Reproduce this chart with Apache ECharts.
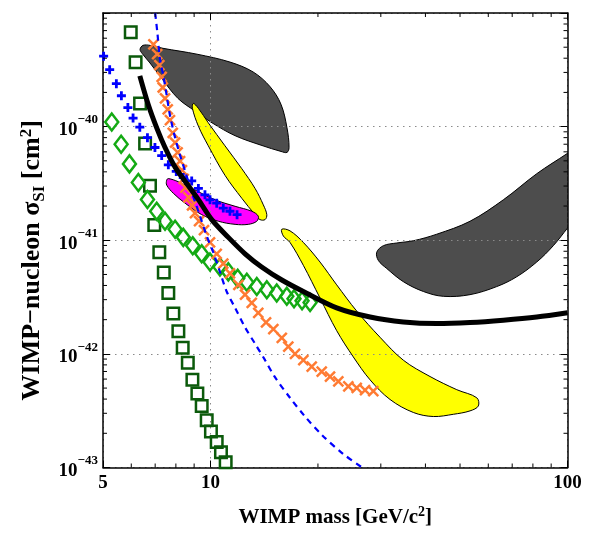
<!DOCTYPE html>
<html><head><meta charset="utf-8">
<script src="https://cdn.jsdelivr.net/npm/echarts@6/dist/echarts.min.js"></script>
<style>html,body{margin:0;padding:0;background:#fff}#c{width:589px;height:533px}</style>
</head><body><div id="c"></div>
<script>
// y axis is drawn in units of 1e-43 cm^2 (labels show the true powers of ten)
const SIGMA_UNIT = 1e-43;
const X_MIN = 5, X_MAX = 100;
const Y_MIN = 1e-43, Y_MAX = 1e-39;

const xTickLabels = [5, 10, 100];
const minorTickMass = [6,7,8,9,20,30,40,50,60,70,80,90];
const minorTickSigma = [2e-43,3e-43,4e-43,5e-43,6e-43,7e-43,8e-43,9e-43,
  2e-42,3e-42,4e-42,5e-42,6e-42,7e-42,8e-42,9e-42,
  2e-41,3e-41,4e-41,5e-41,6e-41,7e-41,8e-41,9e-41,
  2e-40,3e-40,4e-40,5e-40,6e-40,7e-40,8e-40,9e-40];

// dark green squares
const squaresMass = [5.98,6.17,6.35,6.56,6.77,6.96,7.19,7.40,7.62,7.87,8.13,8.36,8.64,8.90,9.19,9.45,9.76,10.03,10.41,10.70,11.03];
const squaresSigma = [6.76e-40,3.68e-40,1.60e-40,7.10e-41,3.02e-41,1.36e-41,7.85e-42,5.21e-42,3.43e-42,2.27e-42,1.58e-42,1.13e-42,8.35e-43,5.91e-43,4.47e-43,3.48e-43,2.61e-43,2.07e-43,1.68e-43,1.36e-43,1.11e-43];

// blue plus markers
const plusMass = [5.02,5.22,5.45,5.63,5.87,6.07,6.34,6.66,6.99,7.30,7.62,8.02,8.39,8.86,9.25,9.65,9.97,10.41,10.86,11.34,11.87];
const plusSigma = [4.17e-40,3.17e-40,2.39e-40,1.87e-40,1.47e-40,1.19e-40,9.89e-41,8.00e-41,6.55e-41,5.56e-41,4.61e-41,4.03e-41,3.56e-41,3.33e-41,2.86e-41,2.51e-41,2.27e-41,2.12e-41,1.92e-41,1.80e-41,1.68e-41];

// green diamonds
const diamondMass = [5.29,5.62,5.93,6.28,6.66,7.07,7.46,7.96,8.39,8.92,9.45,9.97,10.63,11.22,11.92,12.64,13.48,14.38,15.33,16.36,17.14,18.05,19.01];
const diamondSigma = [1.10e-40,7.0e-41,4.70e-41,3.22e-41,2.28e-41,1.80e-41,1.47e-41,1.25e-41,1.06e-41,8.96e-42,7.60e-42,6.43e-42,5.82e-42,5.27e-42,4.62e-42,4.27e-42,3.91e-42,3.66e-42,3.43e-42,3.21e-42,3.06e-42,2.94e-42,2.83e-42];

// orange crosses
const crossMass = [6.92,7.09,7.19,7.30,7.35,7.46,7.59,7.70,7.84,7.96,8.09,8.22,8.32,8.41,8.51,8.68,8.88,9.05,9.29,9.59,9.97,10.41,10.86,11.34,11.97,12.50,13.05,13.61,14.31,15.00,15.84,16.52,17.25,18.20,19.21,20.49,21.62,22.81,24.33,25.68,27.10,28.58];
const crossSigma = [5.29e-40,4.34e-40,3.48e-40,2.74e-40,2.21e-40,1.77e-40,1.42e-40,1.14e-40,8.83e-41,7.24e-41,5.93e-41,4.96e-41,4.15e-41,3.47e-41,2.90e-41,2.38e-41,2.03e-41,1.73e-41,1.47e-41,1.23e-41,9.57e-42,7.60e-42,6.23e-42,5.11e-42,4.05e-42,3.32e-42,2.81e-42,2.30e-42,1.89e-42,1.65e-42,1.38e-42,1.16e-42,1.00e-42,8.80e-43,7.71e-43,6.98e-43,6.32e-43,5.72e-43,5.18e-43,5.01e-43,4.79e-43,4.69e-43];

// blue dashed curve
const dashMass = [7.00,7.10,7.22,7.38,7.54,7.70,7.96,8.22,8.49,8.76,9.05,9.35,9.76,10.18,10.63,11.10,11.72,12.50,13.33,14.22,15.16,16.70,18.40,20.53,23.51,26.58];
const dashSigma = [1.0e-39,6.72e-40,3.93e-40,2.80e-40,1.88e-40,1.26e-40,8.00e-41,5.59e-41,4.06e-41,2.96e-41,2.19e-41,1.63e-41,1.09e-41,7.85e-42,5.27e-42,3.54e-42,2.54e-42,1.71e-42,1.23e-42,8.80e-43,6.23e-43,4.11e-43,2.81e-43,1.93e-43,1.32e-43,1.0e-43];

// thick black curve
const blackMass = [6.34,6.70,7.07,7.46,7.96,8.58,9.25,10.08,11.22,12.50,13.91,15.84,18.20,22.57,27.99,34.69,43.02,53.33,66.12,82.00,100];
const blackSigma = [2.80e-40,1.55e-40,9.75e-41,6.55e-41,4.40e-41,3.16e-41,2.28e-41,1.52e-41,1.06e-41,7.60e-42,5.82e-42,4.47e-42,3.54e-42,2.54e-42,2.11e-42,1.91e-42,1.85e-42,1.89e-42,1.98e-42,2.11e-42,2.30e-42];

// regions (closed outlines)
const darkAMass = [6.35,6.47,6.77,7.36,9.17,11.34,13.16,14.68,15.76,16.38,16.60,16.38,15.76,13.94,11.72,10.10,9.05,8.11,7.31,6.77,6.43];
const darkASigma = [4.79e-40,5.19e-40,5.19e-40,4.89e-40,4.34e-40,3.70e-40,3.03e-40,2.25e-40,1.57e-40,9.75e-41,6.55e-41,5.93e-41,6.05e-41,6.82e-41,8.32e-41,1.08e-40,1.37e-40,1.77e-40,2.64e-40,3.63e-40,4.42e-40];

const darkBMass = [29.22,30.50,33.24,37.00,43.02,53.33,66.12,82.00,100,104.6,104.6,100,91.27,82.00,72.07,63.36,53.33,44.89,39.47,34.69,31.17,29.52];
const darkBSigma = [7.85e-42,8.96e-42,9.46e-42,9.90e-42,1.13e-41,1.47e-41,2.27e-41,3.85e-41,5.82e-41,6.42e-41,1.53e-41,1.28e-41,8.96e-42,6.43e-42,4.77e-42,3.91e-42,3.32e-42,3.21e-42,3.54e-42,4.32e-42,5.64e-42,6.65e-42];

const yellowAMass = [8.95,9.25,9.86,10.98,12.24,13.33,14.06,14.38,14.22,13.76,13.33,12.24,10.98,9.86,9.25,8.90];
const yellowASigma = [1.60e-40,1.45e-40,1.08e-40,6.78e-41,4.26e-41,2.86e-41,2.05e-41,1.68e-41,1.52e-41,1.52e-41,1.68e-41,2.34e-41,3.73e-41,6.78e-41,1.01e-40,1.45e-40];

const magentaMass = [7.54,7.62,8.13,9.05,10.30,11.72,13.05,13.61,13.48,12.76,11.72,10.52,9.45,8.49,7.87,7.54];
const magentaSigma = [3.38e-41,3.49e-41,3.27e-41,2.77e-41,2.27e-41,1.99e-41,1.80e-41,1.63e-41,1.47e-41,1.38e-41,1.38e-41,1.47e-41,1.68e-41,2.12e-41,2.59e-41,3.06e-41];

const yellowBMass = [15.84,16.70,18.20,20.27,22.57,25.68,29.85,34.69,41.21,48.96,55.70,56.27,53.33,47.89,42.09,37.00,31.83,27.99,25.12,22.57,20.27,18.20,16.70,16.00];
const yellowBSigma = [1.25e-41,1.21e-41,9.57e-42,6.43e-42,4.05e-42,2.38e-42,1.40e-42,8.80e-43,6.32e-43,4.84e-43,4.11e-43,3.48e-43,3.15e-43,2.94e-43,2.81e-43,3.05e-43,3.97e-43,5.91e-43,9.41e-43,1.60e-42,3.10e-42,6.02e-42,9.57e-42,1.09e-41];

const FONT = '"Liberation Serif","Times New Roman",serif';
const toU = s => s / SIGMA_UNIT;
const pairs = (ms, ss) => ms.map((m, i) => [m, toU(ss[i])]);

function region(ms, ss, fill) {
  return {
    type: 'custom', coordinateSystem: 'cartesian2d', z: -1, silent: true, clip: true,
    data: [[ms[0], toU(ss[0])]],
    renderItem: function (params, api) {
      const pts = ms.map((m, i) => api.coord([m, toU(ss[i])]));
      return { type: 'polygon', shape: { points: pts, smooth: 0.35 },
               style: { fill: fill, stroke: '#000', lineWidth: 1 } };
    }
  };
}

const chart = echarts.init(document.getElementById('c'), null, { renderer: 'canvas' });

const axisCommonX = {
  type: 'log', logBase: 10, min: X_MIN, max: X_MAX,
  axisLine: { show: true, onZero: false, lineStyle: { color: '#000', width: 1.5 } },
  axisTick: { show: true, inside: true, length: 7, lineStyle: { color: '#000', width: 1 } },
  minorTick: { show: false }
};
const axisCommonY = {
  type: 'log', logBase: 10, min: toU(Y_MIN), max: toU(Y_MAX),
  axisLine: { show: true, onZero: false, lineStyle: { color: '#000', width: 1.5 } },
  axisTick: { show: true, inside: true, length: 7, lineStyle: { color: '#000', width: 1 } },
  minorTick: { show: false }
};

const scatterStyle = (c, w) => ({ color: 'rgba(0,0,0,0)', borderColor: c, borderWidth: w, opacity: 1 });

const option = {
  animation: false,
  backgroundColor: '#fff',
  grid: { left: 103, right: 21.5, top: 13, bottom: 57, containLabel: false },
  xAxis: [
    Object.assign({}, axisCommonX, {
      position: 'bottom',
      axisLabel: {
        show: true, margin: 6, color: '#000', fontFamily: FONT, fontWeight: 'bold', fontSize: 19,
        formatter: v => { const r = Math.round(v); return xTickLabels.indexOf(r) >= 0 ? String(r) : ''; }
      },
      splitLine: { show: true, lineStyle: { color: '#8a8a8a', width: 1, type: [1.5, 4.5] } },
      name: '{t|WIMP mass [GeV/c}{sup|2}{t|]}',
      nameLocation: 'middle', nameGap: 38,
      nameTextStyle: {
        rich: {
          t: { fontFamily: FONT, fontWeight: 'bold', fontSize: 21, color: '#000', lineHeight: 24 },
          sup: { fontFamily: FONT, fontWeight: 'bold', fontSize: 14, color: '#000', verticalAlign: 'top', lineHeight: 14 }
        }
      }
    }),
    Object.assign({}, axisCommonX, {
      position: 'top', axisLabel: { show: false }, splitLine: { show: false }
    })
  ],
  yAxis: [
    Object.assign({}, axisCommonY, {
      position: 'left',
      axisLabel: {
        show: true, margin: 5, color: '#000',
        formatter: v => {
          const e = Math.round(Math.log10(v)) + Math.round(Math.log10(SIGMA_UNIT));
          if (e >= -39) return '';
          return '{b|10}{s|−' + Math.abs(e) + '}';
        },
        rich: {
          b: { fontFamily: FONT, fontWeight: 'bold', fontSize: 19, color: '#000', lineHeight: 26, verticalAlign: 'bottom' },
          s: { fontFamily: FONT, fontWeight: 'bold', fontSize: 13, color: '#000', verticalAlign: 'top', lineHeight: 13 }
        }
      },
      splitLine: { show: true, lineStyle: { color: '#8a8a8a', width: 1, type: [1.5, 4.5] } },
      name: '{t|WIMP−nucleon σ}{sub|SI}{t| [cm}{sup|2}{t|]}',
      nameLocation: 'middle', nameGap: 50, nameRotate: 90,
      nameTextStyle: {
        padding: [0, 40, 0, 0],
        rich: {
          t: { fontFamily: FONT, fontWeight: 'bold', fontSize: 26, color: '#000', lineHeight: 30 },
          sub: { fontFamily: FONT, fontWeight: 'bold', fontSize: 17, color: '#000', verticalAlign: 'bottom', lineHeight: 17 },
          sup: { fontFamily: FONT, fontWeight: 'bold', fontSize: 17, color: '#000', verticalAlign: 'top', lineHeight: 17 }
        }
      }
    }),
    Object.assign({}, axisCommonY, {
      position: 'right', axisLabel: { show: false }, splitLine: { show: false }
    })
  ],
  series: [
    region(darkAMass, darkASigma, '#4d4d4d'),
    region(darkBMass, darkBSigma, '#4d4d4d'),
    region(yellowAMass, yellowASigma, '#ffff00'),
    region(magentaMass, magentaSigma, '#ff00ff'),
    region(yellowBMass, yellowBSigma, '#ffff00'),
    {
      type: 'scatter', data: pairs(squaresMass, squaresSigma), symbol: 'rect', symbolSize: 11.5,
      itemStyle: scatterStyle('#0b5a0b', 2.5), silent: true
    },
    {
      type: 'scatter', data: pairs(diamondMass, diamondSigma), symbol: 'diamond', symbolSize: [13, 17],
      itemStyle: scatterStyle('#14aa14', 2.5), silent: true
    },
    {
      type: 'scatter', data: pairs(crossMass, crossSigma), symbol: 'path://M0,0L10,10M10,0L0,10', symbolSize: 10,
      itemStyle: scatterStyle('#ff7b33', 2.5), silent: true
    },
    {
      type: 'scatter', data: pairs(plusMass, plusSigma), symbol: 'path://M5,0L5,10M0,5L10,5', symbolSize: 9,
      itemStyle: scatterStyle('#0000ff', 2.8), silent: true
    },
    {
      type: 'line', data: pairs(dashMass, dashSigma), showSymbol: false, smooth: 0.3, silent: true,
      lineStyle: { color: '#0000ff', width: 2.2, type: [6, 5] }
    },
    {
      type: 'line', data: pairs(blackMass, blackSigma), showSymbol: false, smooth: 0.3, silent: true,
      lineStyle: { color: '#000', width: 5 }
    },
    {
      type: 'custom', coordinateSystem: 'cartesian2d', z: 5, silent: true, clip: false,
      data: [[10, toU(1e-41)]],
      renderItem: function (params, api) {
        const ch = [];
        const yb = api.coord([10, toU(Y_MIN)])[1], yt = api.coord([10, toU(Y_MAX)])[1];
        const xl = api.coord([X_MIN, toU(1e-41)])[0], xr = api.coord([X_MAX, toU(1e-41)])[0];
        const st = { stroke: '#000', lineWidth: 1 };
        minorTickMass.forEach(m => {
          const x = api.coord([m, toU(1e-41)])[0];
          ch.push({ type: 'line', shape: { x1: x, y1: yb, x2: x, y2: yb - 4 }, style: st });
          ch.push({ type: 'line', shape: { x1: x, y1: yt, x2: x, y2: yt + 4 }, style: st });
        });
        minorTickSigma.forEach(s => {
          const y = api.coord([10, toU(s)])[1];
          ch.push({ type: 'line', shape: { x1: xl, y1: y, x2: xl + 4, y2: y }, style: st });
          ch.push({ type: 'line', shape: { x1: xr, y1: y, x2: xr - 4, y2: y }, style: st });
        });
        return { type: 'group', children: ch };
      }
    }
  ]
};
chart.setOption(option);
</script></body></html>
